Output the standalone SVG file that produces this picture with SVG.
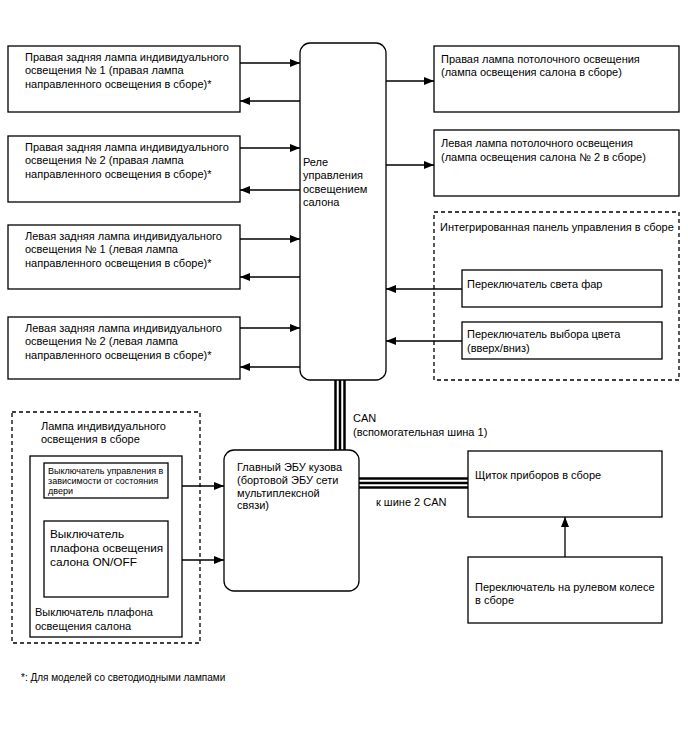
<svg xmlns="http://www.w3.org/2000/svg" width="688" height="755" viewBox="0 0 688 755">
<defs>
<marker id="ah" viewBox="0 0 10 8" refX="10" refY="4" markerWidth="10" markerHeight="8" markerUnits="userSpaceOnUse" orient="auto">
<path d="M0,0 L10,4 L0,8 Z" fill="#000"/>
</marker>
<style>
text{font-family:"Liberation Sans",Arial,sans-serif;font-size:11px;fill:#000}
.box{fill:#fff;stroke:#000;stroke-width:1.3}
.dash{fill:none;stroke:#000;stroke-width:1.3;stroke-dasharray:4,3}
.ln{fill:none;stroke:#000;stroke-width:1.3}
.arr{fill:none;stroke:#000;stroke-width:1.3;marker-end:url(#ah)}
.bus{fill:none;stroke:#000;stroke-width:2.5}
.sm{font-size:9px}
.lg{font-size:11.8px}
</style>
</defs>
<rect width="688" height="755" fill="#fff"/>

<g id="connectors">
<line class="arr" x1="240" y1="63" x2="300" y2="63"/>
<line class="arr" x1="300" y1="101" x2="240" y2="101"/>
<line class="arr" x1="240" y1="148" x2="300" y2="148"/>
<line class="arr" x1="300" y1="190" x2="240" y2="190"/>
<line class="arr" x1="240" y1="239" x2="300" y2="239"/>
<line class="arr" x1="300" y1="277" x2="240" y2="277"/>
<line class="arr" x1="240" y1="328" x2="300" y2="328"/>
<line class="arr" x1="300" y1="367" x2="240" y2="367"/>
<line class="arr" x1="386" y1="81" x2="434" y2="81"/>
<line class="arr" x1="386" y1="165" x2="434" y2="165"/>
<line class="arr" x1="462" y1="289" x2="386" y2="289"/>
<line class="arr" x1="462" y1="341" x2="386" y2="341"/>
<line class="arr" x1="168" y1="486" x2="224" y2="486"/>
<line class="arr" x1="168" y1="560" x2="224" y2="560"/>
<line class="arr" x1="565" y1="557" x2="565" y2="517"/>
<line class="bus" x1="335.5" y1="380" x2="335.5" y2="452"/>
<line class="bus" x1="340" y1="380" x2="340" y2="452"/>
<line class="bus" x1="344.5" y1="380" x2="344.5" y2="452"/>
<line class="bus" x1="358" y1="478.5" x2="468" y2="478.5"/>
<line class="bus" x1="358" y1="483" x2="468" y2="483"/>
<line class="bus" x1="358" y1="487.5" x2="468" y2="487.5"/>
<text x="353" y="422">CAN</text>
<text x="353" y="436">(вспомогательная шина 1)</text>
<text x="376" y="506">к шине 2 CAN</text>
</g>

<g id="relay">
<rect class="box" x="300" y="43" width="86" height="337" rx="10"/>
<text x="303" y="165.5">Реле</text>
<text x="303" y="179">управления</text>
<text x="303" y="192.5">освещением</text>
<text x="303" y="205.5">салона</text>
</g>

<g id="rr1">
<rect class="box" x="8" y="46" width="232" height="66"/>
<text x="25" y="60.5">Правая задняя лампа индивидуального</text>
<text x="25" y="74">освещения № 1 (правая лампа</text>
<text x="25" y="87.5">направленного освещения в сборе)*</text>
</g>
<g id="rr2">
<rect class="box" x="8" y="136" width="232" height="66"/>
<text x="25" y="150.5">Правая задняя лампа индивидуального</text>
<text x="25" y="164">освещения № 2 (правая лампа</text>
<text x="25" y="177.5">направленного освещения в сборе)*</text>
</g>
<g id="rl1">
<rect class="box" x="8" y="225" width="232" height="64"/>
<text x="25" y="239.5">Левая задняя лампа индивидуального</text>
<text x="25" y="253">освещения № 1 (левая лампа</text>
<text x="25" y="266.5">направленного освещения в сборе)*</text>
</g>
<g id="rl2">
<rect class="box" x="8" y="317" width="232" height="62"/>
<text x="25" y="331.5">Левая задняя лампа индивидуального</text>
<text x="25" y="345">освещения № 2 (левая лампа</text>
<text x="25" y="358.5">направленного освещения в сборе)*</text>
</g>

<g id="roofR">
<rect class="box" x="434" y="46" width="245" height="66"/>
<text x="441" y="62.5">Правая лампа потолочного освещения</text>
<text x="441" y="76">(лампа освещения салона в сборе)</text>
</g>
<g id="roofL">
<rect class="box" x="434" y="130" width="245" height="66"/>
<text x="441" y="147">Левая лампа потолочного освещения</text>
<text x="441" y="160.5">(лампа освещения салона № 2 в сборе)</text>
</g>

<g id="panel">
<rect class="dash" x="434" y="212" width="245" height="168"/>
<text x="440" y="230.5">Интегрированная панель управления в сборе</text>
</g>
<g id="headlightSw">
<rect class="box" x="462" y="270" width="200" height="37"/>
<text x="467" y="288">Переключатель света фар</text>
</g>
<g id="colorSw">
<rect class="box" x="462" y="322" width="200" height="37"/>
<text x="467" y="338">Переключатель выбора цвета</text>
<text x="467" y="351.5">(вверх/вниз)</text>
</g>

<g id="lampAssy">
<rect class="dash" x="12" y="412" width="188" height="231"/>
<text x="41" y="430">Лампа индивидуального</text>
<text x="41" y="443">освещения в сборе</text>
</g>
<g id="roomSw">
<rect class="box" x="30" y="456" width="152" height="181"/>
<text x="35" y="616">Выключатель плафона</text>
<text x="35" y="630">освещения салона</text>
</g>
<g id="doorSw">
<rect class="box" x="44" y="463" width="124" height="35"/>
<text class="sm" x="48" y="474">Выключатель управления в</text>
<text class="sm" x="48" y="484">зависимости от состояния</text>
<text class="sm" x="48" y="494">двери</text>
</g>
<g id="onoffSw">
<rect class="box" x="44" y="521" width="124" height="76"/>
<text class="lg" x="50" y="538">Выключатель</text>
<text class="lg" x="50" y="552">плафона освещения</text>
<text class="lg" x="50" y="566">салона ON/OFF</text>
</g>

<g id="ecu">
<rect class="box" x="224" y="450" width="135" height="141" rx="10"/>
<text x="237" y="470.5">Главный ЭБУ кузова</text>
<text x="237" y="483.5">(бортовой ЭБУ сети</text>
<text x="237" y="496.5">мультиплексной</text>
<text x="237" y="509">связи)</text>
</g>

<g id="cluster">
<rect class="box" x="468" y="451" width="194" height="66"/>
<text x="475" y="479">Щиток приборов в сборе</text>
</g>
<g id="steeringSw">
<rect class="box" x="468" y="557" width="194" height="66"/>
<text x="475" y="590.5">Переключатель на рулевом колесе</text>
<text x="475" y="604">в сборе</text>
</g>

<text x="21" y="681" style="font-size:10px">*: Для моделей со светодиодными лампами</text>
</svg>
